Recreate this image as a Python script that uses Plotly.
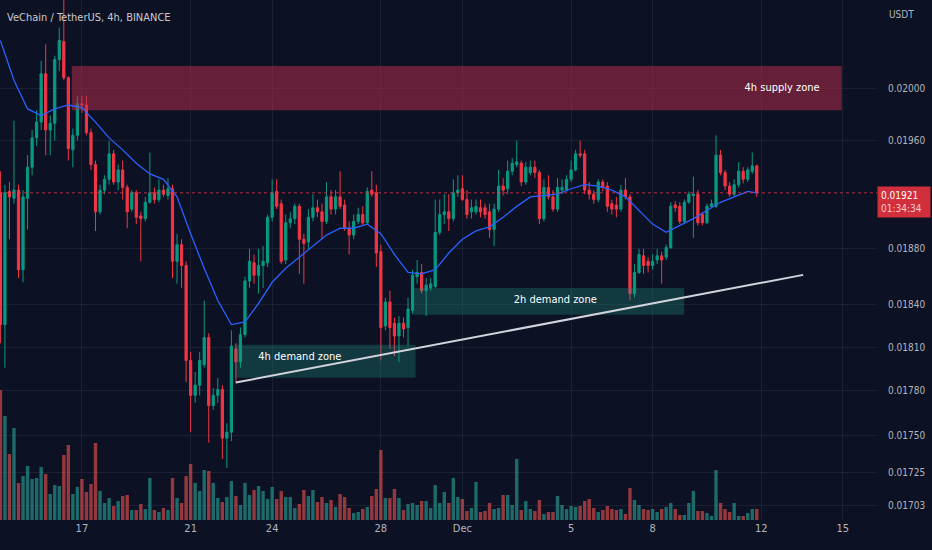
import numpy as np
import pandas as pd
import plotly.graph_objects as go

# VET/USDT 4h candles, Nov 14 - Dec 11 2022, prices in 1e-5 USDT (1921 = 0.01921)
start = "2022-11-14 00:00"
n_candles = 168

open_e5 = [1921, 1826, 1922, 1917, 1923, 1865, 1917, 1940, 1962, 1974,
           2011, 1968, 1973, 2022, 2036, 2008, 1953, 1964, 1988, 1987,
           1966, 1942, 1907, 1923, 1931, 1950, 1929, 1938, 1925, 1909,
           1921, 1904, 1902, 1914, 1921, 1916, 1923, 1919, 1924, 1871,
           1883, 1868, 1801, 1777, 1784, 1798, 1817, 1770, 1777, 1781,
           1748, 1752, 1809, 1800, 1819, 1857, 1870, 1861, 1868, 1870,
           1903, 1922, 1913, 1872, 1899, 1902, 1911, 1887, 1885, 1903,
           1910, 1907, 1900, 1918, 1909, 1918, 1912, 1895, 1890, 1900,
           1905, 1899, 1923, 1921, 1878, 1825, 1842, 1827, 1818, 1827,
           1824, 1836, 1860, 1863, 1850, 1852, 1853, 1892, 1905, 1907,
           1902, 1921, 1924, 1916, 1907, 1907, 1910, 1910, 1907, 1894,
           1909, 1926, 1924, 1937, 1942, 1943, 1929, 1936, 1940, 1936,
           1902, 1925, 1918, 1909, 1923, 1923, 1931, 1938, 1950, 1950,
           1923, 1920, 1916, 1929, 1926, 1913, 1912, 1909, 1923, 1918,
           1848, 1863, 1875, 1871, 1868, 1872, 1875, 1874, 1881, 1912,
           1911, 1900, 1914, 1919, 1920, 1905, 1899, 1911, 1911, 1949,
           1936, 1926, 1920, 1927, 1937, 1931, 1937, 1941]

high_e5 = [1937, 1927, 1929, 1975, 1927, 1923, 1949, 1968, 1983, 2021,
           2034, 1979, 2025, 2047, 2072, 2009, 1969, 1994, 1994, 1994,
           1969, 1945, 1927, 1934, 1960, 1953, 1942, 1945, 1927, 1923,
           1923, 1907, 1918, 1951, 1925, 1931, 1927, 1932, 1927, 1891,
           1887, 1871, 1807, 1793, 1807, 1843, 1820, 1782, 1789, 1784,
           1758, 1822, 1813, 1824, 1860, 1880, 1876, 1880, 1882, 1905,
           1931, 1931, 1916, 1905, 1907, 1913, 1913, 1891, 1909, 1920,
           1916, 1913, 1929, 1923, 1923, 1937, 1916, 1900, 1905, 1910,
           1911, 1925, 1937, 1927, 1883, 1845, 1850, 1831, 1832, 1831,
           1845, 1865, 1872, 1869, 1859, 1859, 1916, 1916, 1920, 1920,
           1931, 1934, 1934, 1923, 1916, 1916, 1916, 1913, 1913, 1913,
           1938, 1932, 1945, 1947, 1960, 1945, 1944, 1945, 1945, 1938,
           1931, 1934, 1923, 1932, 1931, 1934, 1945, 1953, 1960, 1953,
           1929, 1923, 1931, 1931, 1929, 1916, 1918, 1927, 1932, 1920,
           1869, 1880, 1880, 1874, 1876, 1880, 1878, 1883, 1914, 1915,
           1914, 1916, 1922, 1933, 1923, 1907, 1913, 1916, 1964, 1953,
           1938, 1929, 1931, 1944, 1940, 1940, 1951, 1942]

low_e5 = [1813, 1796, 1887, 1913, 1859, 1856, 1894, 1934, 1956, 1968,
          1949, 1949, 1960, 2013, 2006, 1945, 1940, 1960, 1981, 1964,
          1938, 1893, 1905, 1920, 1927, 1927, 1923, 1916, 1895, 1907,
          1898, 1871, 1900, 1913, 1913, 1914, 1918, 1916, 1859, 1855,
          1852, 1786, 1752, 1772, 1777, 1796, 1745, 1767, 1772, 1734,
          1728, 1746, 1786, 1796, 1817, 1852, 1855, 1848, 1852, 1867,
          1900, 1909, 1869, 1869, 1895, 1898, 1862, 1855, 1880, 1900,
          1903, 1887, 1898, 1905, 1905, 1909, 1893, 1876, 1887, 1898,
          1897, 1898, 1918, 1867, 1801, 1822, 1809, 1804, 1800, 1817,
          1811, 1834, 1855, 1848, 1832, 1850, 1852, 1890, 1898, 1893,
          1900, 1918, 1915, 1902, 1902, 1905, 1903, 1902, 1888, 1882,
          1907, 1919, 1920, 1934, 1940, 1926, 1927, 1934, 1932, 1898,
          1900, 1916, 1907, 1907, 1920, 1922, 1929, 1937, 1947, 1920,
          1916, 1913, 1914, 1922, 1907, 1905, 1903, 1907, 1916, 1843,
          1845, 1862, 1862, 1863, 1865, 1869, 1855, 1872, 1880, 1907,
          1898, 1898, 1913, 1888, 1897, 1897, 1898, 1910, 1910, 1934,
          1923, 1918, 1918, 1925, 1928, 1929, 1935, 1918]

close_e5 = [1826, 1921, 1918, 1923, 1865, 1918, 1940, 1962, 1974, 2011,
            1968, 1973, 2022, 2037, 2008, 1954, 1964, 1988, 1987, 1966,
            1942, 1907, 1923, 1931, 1950, 1929, 1938, 1925, 1907, 1921,
            1903, 1902, 1914, 1921, 1916, 1923, 1920, 1924, 1871, 1883,
            1868, 1801, 1777, 1784, 1801, 1817, 1770, 1777, 1781, 1748,
            1752, 1811, 1800, 1819, 1857, 1871, 1861, 1868, 1871, 1903,
            1921, 1911, 1871, 1899, 1902, 1911, 1887, 1884, 1903, 1910,
            1907, 1900, 1918, 1909, 1918, 1911, 1895, 1890, 1900, 1905,
            1899, 1922, 1920, 1877, 1824, 1842, 1824, 1818, 1827, 1823,
            1837, 1861, 1863, 1850, 1854, 1855, 1892, 1905, 1907, 1902,
            1921, 1923, 1916, 1905, 1910, 1911, 1907, 1905, 1894, 1909,
            1926, 1923, 1937, 1943, 1944, 1929, 1940, 1940, 1936, 1902,
            1925, 1918, 1909, 1925, 1925, 1931, 1938, 1950, 1949, 1923,
            1920, 1916, 1929, 1925, 1911, 1909, 1909, 1923, 1918, 1848,
            1863, 1876, 1868, 1868, 1871, 1875, 1872, 1881, 1911, 1910,
            1900, 1914, 1920, 1920, 1899, 1899, 1911, 1913, 1949, 1936,
            1926, 1920, 1927, 1937, 1931, 1938, 1941, 1921]

# volume, M VET
volume = [130, 104, 66, 92, 37, 44, 54, 41, 42, 53,
          46, 26, 35, 34, 65, 75, 26, 33, 41, 28,
          36, 77, 29, 17, 22, 14, 19, 24, 25, 10,
          10, 16, 11, 42, 10, 8, 12, 10, 42, 22,
          17, 44, 56, 37, 29, 50, 49, 37, 22, 18,
          23, 39, 24, 15, 37, 25, 30, 34, 29, 21,
          33, 21, 29, 23, 23, 12, 16, 30, 24, 30,
          18, 23, 17, 20, 13, 26, 23, 12, 7, 8,
          11, 13, 24, 31, 70, 22, 22, 31, 22, 10,
          16, 17, 15, 19, 19, 12, 35, 17, 28, 17,
          42, 23, 21, 9, 12, 38, 8, 9, 17, 11,
          12, 25, 25, 15, 61, 10, 19, 11, 9, 20,
          6, 8, 8, 24, 15, 11, 14, 13, 14, 19,
          21, 12, 8, 10, 14, 11, 10, 11, 6, 32,
          20, 15, 11, 10, 11, 8, 11, 13, 17, 11,
          5, 5, 17, 29, 9, 9, 7, 4, 50, 17,
          11, 8, 17, 4, 4, 7, 11, 11]

# moving average, read every 3rd candle
ma_idx = list(range(0, 168, 3)) + [167]
ma_e5 = [2037, 2006, 1984, 1979, 1984, 1987, 1985, 1974, 1962, 1953,
         1943, 1935, 1931, 1918, 1891, 1866, 1843, 1826, 1828, 1841,
         1856, 1866, 1874, 1882, 1890, 1895, 1895, 1898, 1891, 1876,
         1863, 1862, 1865, 1877, 1887, 1893, 1896, 1903, 1911, 1918,
         1919, 1920, 1924, 1927, 1926, 1923, 1918, 1908, 1898, 1892,
         1897, 1902, 1908, 1914, 1918, 1922, 1921]

# drawn zones: (start, end, low, high, label, label time, label price, colour)
zones = [
    ("2022-11-16 15:00", "2022-12-14 23:00", 0.01983, 0.02017,
     "4h supply zone", "2022-12-12 18:20", 0.02000, "rgba(190,45,75,0.5)"),
    ("2022-11-22 15:00", "2022-11-29 06:40", 0.01789, 0.01812,
     "4h demand zone", "2022-11-25 00:30", 0.01803, "rgba(30,150,130,0.3)"),
    ("2022-11-29 03:10", "2022-12-09 03:50", 0.01833, 0.01852,
     "2h demand zone", "2022-12-04 10:00", 0.018435, "rgba(30,150,130,0.3)"),
]
trend_t = ["2022-11-22 15:50", "2022-12-13 13:00"]
trend_p = [0.017858, 0.018613]

x_ticks = ["2022-11-14", "2022-11-17", "2022-11-21", "2022-11-24", "2022-11-28",
           "2022-12-01", "2022-12-05", "2022-12-08", "2022-12-12", "2022-12-15"]
x_labels = ["14", "17", "21", "24", "28", "Dec", "5", "8", "12", "15"]
y_ticks = [0.02000, 0.01960, 0.01880, 0.01840, 0.01810, 0.01780, 0.01750, 0.01725, 0.01703]
x_left, x_right = "2022-11-13 23:39", "2022-12-16 06:10"
p_top, p_bottom = 0.020689, 0.016938

t = pd.date_range(start, periods=n_candles, freq="4h")
o = np.array(open_e5) / 1e5
h = np.array(high_e5) / 1e5
l = np.array(low_e5) / 1e5
c = np.array(close_e5) / 1e5
ma = np.array(ma_e5) / 1e5

up, down = "#089981", "#f23645"
bg = "#0d1124"
grid = "#1b2033"
txt = "#b2b5be"
font = "DejaVu Sans Condensed, Roboto, sans-serif"

fig = go.Figure()

vol_col = ["rgba(38,166,154,0.6)" if cc >= oo else "rgba(239,83,80,0.6)" for oo, cc in zip(o, c)]
fig.add_trace(go.Bar(x=t, y=volume, marker=dict(color=vol_col, line_width=0),
                     width=4 * 3600 * 1000 * 0.75, yaxis="y", hoverinfo="skip"))

fig.add_trace(go.Candlestick(x=t, open=o, high=h, low=l, close=c, yaxis="y2",
                             increasing=dict(line=dict(color=up, width=1), fillcolor=up),
                             decreasing=dict(line=dict(color=down, width=1), fillcolor=down),
                             whiskerwidth=0))

for z0, z1, lo, hi, name, lt, lp, col in zones:
    fig.add_trace(go.Scatter(x=[z0, z1, z1, z0, z0], y=[lo, lo, hi, hi, lo], yaxis="y2",
                             mode="lines", fill="toself", fillcolor=col, line_width=0,
                             hoverinfo="skip"))

fig.add_trace(go.Scatter(x=t[ma_idx], y=ma, yaxis="y2", mode="lines",
                         line=dict(color="#2962ff", width=1.3), hoverinfo="skip"))

fig.add_trace(go.Scatter(x=trend_t, y=trend_p, yaxis="y2", mode="lines",
                         line=dict(color="#d1d4dc", width=2), hoverinfo="skip"))

fig.add_trace(go.Scatter(x=[x_left, x_right], y=[c[-1], c[-1]], yaxis="y2", mode="lines",
                         line=dict(color="rgba(242,54,69,0.75)", width=1, dash="dot"),
                         hoverinfo="skip"))

fig.add_trace(go.Scatter(x=[z[5] for z in zones], y=[z[6] for z in zones], yaxis="y2",
                         mode="text", text=[z[4] for z in zones],
                         textfont=dict(color="#ffffff", size=11, family=font),
                         hoverinfo="skip"))

fig.add_annotation(xref="paper", yref="paper", x=0, y=1, xanchor="left", yanchor="middle",
                   xshift=5, yshift=-17, showarrow=False,
                   text="VeChain / TetherUS, 4h, BINANCE",
                   font=dict(color="#c8cad2", size=11, family=font))
fig.add_annotation(xref="paper", yref="paper", x=1, y=1, xanchor="left", yanchor="middle",
                   xshift=10, yshift=-14, showarrow=False, text="USDT",
                   font=dict(color=txt, size=10, family=font))
fig.add_annotation(xref="paper", yref="y2", x=1, y=np.log10(c[-1]), xanchor="left",
                   yanchor="middle", yshift=-9, showarrow=False,
                   text="%.5f<br><span style='color:#f6c9cd'>01:34:34</span>" % c[-1],
                   font=dict(color="#ffffff", size=10, family=font),
                   bgcolor="#d12f3c", borderpad=3, width=46, align="left")

fig.update_layout(
    width=932, height=550,
    margin=dict(l=0, r=55, t=0, b=30),
    paper_bgcolor=bg, plot_bgcolor=bg,
    showlegend=False,
    xaxis=dict(type="date", range=[x_left, x_right], tickvals=x_ticks, ticktext=x_labels,
               showgrid=True, gridcolor=grid, zeroline=False, showline=False, ticks="",
               tickfont=dict(color=txt, size=11, family=font), rangeslider=dict(visible=False)),
    yaxis=dict(range=[0, 520], visible=False, showgrid=False, fixedrange=True),
    yaxis2=dict(type="log", overlaying="y", side="right",
                range=[np.log10(p_bottom), np.log10(p_top)],
                tickvals=y_ticks, ticktext=["%.5f" % v for v in y_ticks],
                showgrid=True, gridcolor=grid, zeroline=False, showline=False, ticks="",
                ticklabelstandoff=10,
                tickfont=dict(color=txt, size=10, family=font)),
)

# drop the browser's default 8px page margin so the figure sits at 0,0
fig.write_html("out.html", config={"displayModeBar": False},
               post_script="document.body.style.margin='0';")
